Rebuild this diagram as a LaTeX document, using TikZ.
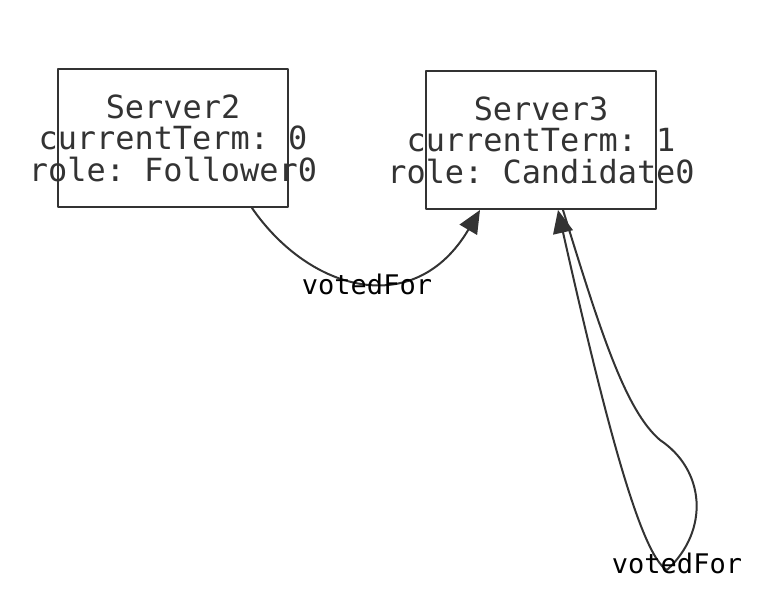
\documentclass[tikz,border=0pt]{standalone}
\usepackage{fontspec}
\setmonofont{DejaVu Sans Mono}
\usetikzlibrary{arrows.meta}
\definecolor{ink}{HTML}{333333}
\newcommand{\boxline}[1]{\makebox[0pt]{#1}}
\begin{document}
\begin{tikzpicture}[x=1pt,y=-1pt,line cap=round,line join=round,
  server/.style={draw=ink,line width=2pt,minimum width=230pt,minimum height=138pt,
    align=center,text=ink,inner sep=0pt,font=\fontsize{31.9}{31.5}\selectfont\ttfamily},
  vote/.style={draw=ink,line width=2pt,-{Triangle[length=23pt,width=20pt]}},
  votelabel/.style={text=black,inner sep=0pt,font=\fontsize{27}{27}\selectfont\ttfamily}]
  \useasboundingbox (0,0) rectangle (772,598);
  \node[server] (s2) at (173,138) {\boxline{Server2}\\\boxline{currentTerm: 0}\\\boxline{role: Follower0}};
  \node[server] (s3) at (541,140) {\boxline{Server3}\\\boxline{currentTerm: 1}\\\boxline{role: Candidate0}};
  % s2 votes for s3
  \draw[vote] ([xshift=79pt]s2.south) .. controls (310,292) and (415,320) .. ([xshift=-61pt]s3.south);
  % s3 votes for itself
  \draw[vote] ([xshift=22pt]s3.south) .. controls (600,330) and (625,410) .. (660,440)
    .. controls (705,470) and (710,530) .. (667,570)
    .. controls (640,555) and (603,410) .. ([xshift=17pt]s3.south);
  \node[votelabel] (v1) at (367,284) {votedFor};
  \node[votelabel] (v2) at (677,563) {votedFor};
\end{tikzpicture}
\end{document}
